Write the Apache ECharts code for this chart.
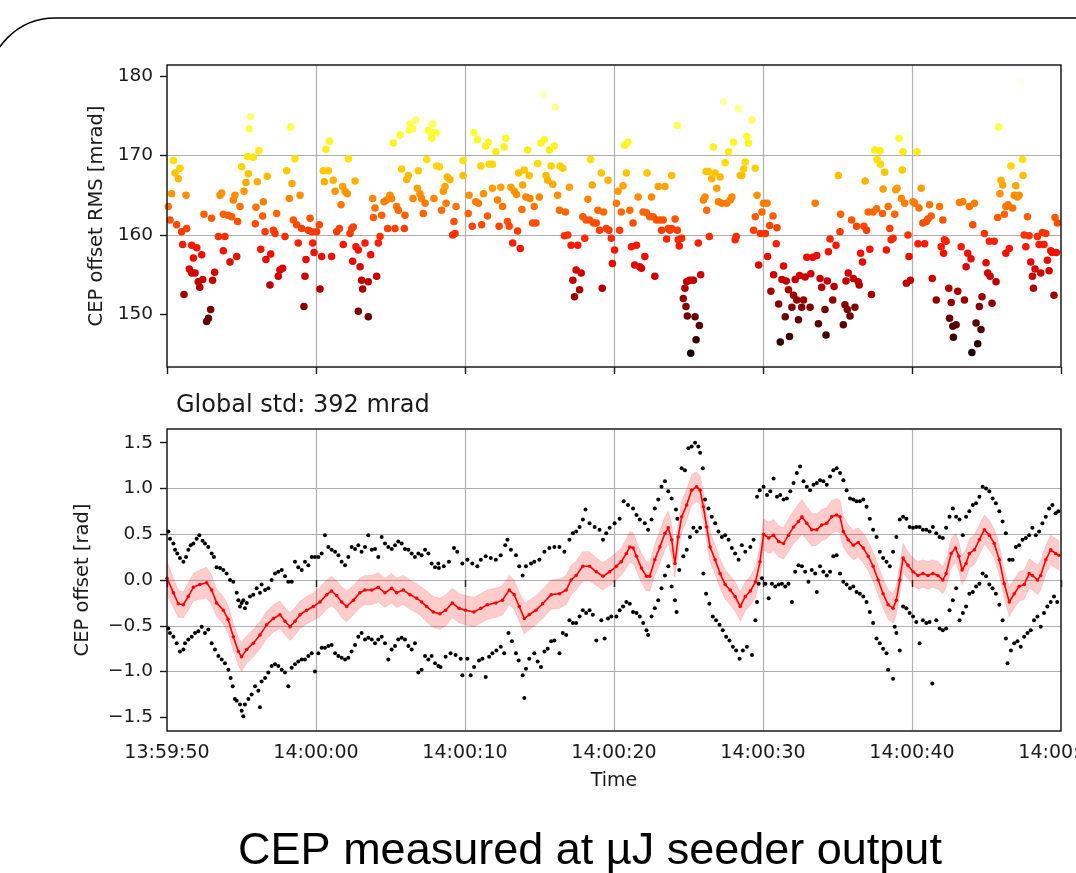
<!DOCTYPE html>
<html>
<head>
<meta charset="utf-8">
<style>
html, body { margin: 0; padding: 0; background: #fff; }
#chart { width: 1076px; height: 873px; }
</style>
<script src="https://cdn.jsdelivr.net/npm/echarts@6/dist/echarts.min.js"></script>
</head>
<body>
<div id="chart"></div>
<script>
// time axis: seconds after 13:59:50
let xTickLabels = ['13:59:50', '14:00:00', '14:00:10', '14:00:20', '14:00:30', '14:00:40', '14:00:50'];
let rmsTicks = [150, 160, 170, 180];
let cepTicks = [-1.5, -1.0, -0.5, 0.0, 0.5, 1.0, 1.5];

// top panel: CEP offset RMS [mrad], [t, value]
let rmsPoints = [
[0.43,169.4],[0.54,167.8],[0.76,167.1],[0.87,168.4],[0.31,165.2],[0.09,163.6],[0.2,161.9],[0.65,161.3],[0.98,160.4],[1.32,160.8],[1.28,165.0],[1.05,158.8],[1.66,158.7],[2.0,158.4],[1.77,157.1],[2.33,157.5],[1.5,155.7],[1.66,155.2],[1.88,155.2],[2.1,154.1],[2.2,153.4],[2.4,154.4],[1.14,152.5],[2.66,149.1],[2.78,149.5],[2.93,150.6],[3.06,154.3],[3.2,155.3],[2.48,162.6],[2.99,162.1],[3.45,159.8],[3.56,165.0],[3.67,165.3],[3.78,162.6],[3.89,159.8],[3.78,158.0],[4.1,162.5],[4.23,156.6],[4.34,162.3],[4.45,164.4],[4.56,165.0],[4.68,157.3],[4.74,161.7],[4.9,163.6],[5.01,168.6],[5.17,165.5],[5.3,166.6],[5.41,169.9],[5.52,173.4],[5.61,174.9],[5.79,169.8],[5.46,167.7],[5.93,161.4],[5.97,163.5],[6.06,166.7],[6.17,170.6],[6.29,158.2],[6.42,162.4],[6.47,164.2],[6.58,160.4],[6.64,156.9],[6.73,167.4],[6.96,157.6],[7.14,160.6],[7.25,160.2],[7.36,162.7],[7.47,154.8],[7.58,155.6],[7.76,155.8],[6.91,153.7],[7.92,159.8],[8.03,168.1],[8.21,164.6],[8.3,173.6],[8.39,166.5],[8.48,161.9],[8.59,169.6],[8.7,161.3],[8.81,159.0],[8.93,165.0],[9.04,160.8],[9.19,151.0],[9.26,154.8],[9.33,156.9],[9.49,160.6],[9.6,162.1],[9.71,160.4],[9.78,159.0],[9.87,157.8],[10.04,160.4],[10.22,161.3],[10.27,153.2],[10.38,157.3],[10.49,168.1],[10.56,166.7],[10.67,170.8],[10.83,168.1],[10.9,171.8],[11.05,157.3],[11.16,166.9],[11.28,165.5],[11.39,160.4],[11.57,160.8],[11.68,163.8],[11.79,166.1],[11.83,158.8],[11.95,165.5],[12.1,165.2],[12.17,169.6],[12.28,160.2],[12.4,160.8],[12.46,156.7],[12.5,161.0],[12.62,166.8],[12.68,158.5],[12.84,158.1],[12.96,156.0],[13.06,154.3],[12.84,150.4],[13.13,153.2],[13.29,159.0],[13.51,154.1],[13.51,149.7],[13.67,157.5],[13.8,164.6],[13.96,163.4],[13.85,162.2],[14.07,154.8],[14.18,159.0],[14.3,159.8],[14.41,162.5],[14.56,164.2],[14.74,164.4],[14.81,160.8],[14.96,165.0],[15.07,164.6],[15.19,171.6],[15.3,160.8],[15.41,163.6],[15.53,163.1],[15.64,172.6],[15.75,168.3],[15.97,162.5],[15.93,160.8],[16.09,167.0],[16.2,167.5],[16.26,173.2],[16.31,174.0],[16.49,173.4],[16.71,174.5],[16.51,164.6],[16.8,165.9],[16.87,168.1],[16.98,165.2],[17.09,164.6],[17.2,162.7],[17.32,164.0],[17.43,169.5],[17.54,173.2],[17.65,173.0],[17.77,172.2],[17.83,174.0],[17.92,164.6],[18.05,172.9],[18.1,168.7],[18.28,168.6],[18.43,163.1],[18.55,165.5],[18.66,166.1],[18.73,164.0],[18.81,167.3],[18.99,167.0],[19.17,160.0],[19.26,161.7],[19.4,163.6],[19.33,160.2],
[19.87,169.4],[19.87,167.5],[20.27,165.0],[20.22,162.7],[20.49,161.1],[20.61,172.9],[20.72,164.2],[20.83,172.0],[20.9,164.0],[21.06,168.7],[21.12,161.3],[21.24,165.2],[21.39,171.2],[21.51,162.4],[21.57,171.7],[21.62,168.9],[21.84,168.9],[21.84,165.9],[22.07,170.5],[22.18,164.4],[22.29,161.1],[22.4,166.0],[22.52,163.6],[22.63,171.1],[22.74,172.2],[22.85,161.7],[22.97,161.1],[23.08,166.0],[23.2,159.0],[23.31,165.5],[23.46,165.1],[23.53,160.5],[23.6,167.8],[23.71,158.3],[23.82,163.2],[23.87,166.3],[23.98,168.2],[24.09,164.8],[24.2,170.7],[24.31,167.5],[24.36,164.6],[24.54,161.5],[24.65,163.6],[24.76,161.5],[24.88,169.0],[24.99,164.8],[25.1,171.6],[25.26,177.6],[25.33,172.0],[25.44,167.5],[25.55,166.9],[25.66,170.7],[25.78,168.7],[25.89,166.4],[25.99,171.2],[26.07,176.1],[26.22,165.0],[26.34,163.1],[26.38,168.7],[26.56,168.4],[26.67,159.9],[26.74,162.9],[26.9,160.0],[27.01,166.0],[27.12,158.7],[27.24,154.3],[27.35,152.2],[27.46,155.6],[27.57,158.7],[27.69,153.1],[27.8,155.2],[27.91,162.3],[28.04,159.6],[28.13,161.9],[28.25,164.5],[28.36,161.9],[28.43,169.5],[28.54,166.3],[28.63,161.5],[28.81,161.5],[28.92,163.1],[29.03,160.6],[29.15,167.8],[29.21,153.3],[29.3,162.9],[29.48,160.8],[29.6,166.9],[29.66,160.6],[29.82,159.6],[29.89,156.4],[30.04,158.1],[30.16,164.0],[30.27,165.5],[30.38,160.6],[30.49,162.9],[30.61,166.2],[30.72,171.3],[30.83,167.8],[30.94,171.7],[31.06,163.1],[31.17,158.5],[31.28,161.5],[31.39,156.2],[31.51,158.7],[31.62,164.8],[31.73,156.0],[31.84,155.8],[31.96,162.9],[32.07,157.3],[32.18,162.8],[32.22,167.8],[32.4,162.3],[32.52,164.8],[32.63,162.3],[32.74,154.8],[32.85,161.9],[32.97,166.1],[33.08,161.9],[33.19,160.6],[33.3,161.9],[33.42,166.1],[33.53,159.5],[33.64,160.8],[33.75,160.6],[33.87,160.8],[33.87,167.5],[34.1,162.0],[34.25,173.8],[34.25,160.6],[34.31,159.4],[34.38,158.6],[34.54,159.6],[34.65,152.0],[34.76,153.3],[34.83,151.0],[34.88,154.1],[34.92,149.8],[35.06,154.3],[35.15,145.1],[35.21,154.3],[35.33,154.3],[35.44,149.7],[35.51,146.8],[35.66,159.0],[35.73,148.6],[35.82,155.0],[36.0,164.4],[36.11,164.8],[36.18,168.0],[36.22,163.1],[36.34,168.0],[36.4,159.8],[36.56,167.1],[36.67,171.1],[36.79,167.8],[36.9,165.9],[37.01,164.2],[37.12,167.3],[37.24,164.0],[37.35,176.8],[37.46,169.1],[37.57,164.0],[37.69,170.5],[37.8,164.4],[37.91,164.8],[38.02,171.7],[38.13,159.4],[38.2,159.8],[38.36,175.9],[38.47,167.5],[38.58,167.5],[38.7,168.3],[38.81,169.2],[38.92,172.4],[39.03,171.6],[39.26,174.5],[39.37,160.6],[39.48,168.4],[39.48,162.3],[39.6,165.0],[39.71,156.2],
[39.93,162.9],[40.04,164.0],[40.27,164.0],[39.82,160.2],[40.16,160.2],[40.45,161.2],[40.67,162.4],[40.94,160.9],[40.89,158.9],[40.31,157.3],[40.71,155.0],[40.53,152.9],[41.05,151.3],[41.27,154.4],[41.38,156.1],[41.56,154.2],[41.71,153.1],[41.49,149.7],[41.16,146.5],[41.78,147.2],[41.94,150.9],[42.05,152.4],[42.16,154.4],[42.27,151.8],[42.38,149.3],[42.45,154.9],[42.6,150.9],[42.72,151.8],[42.83,154.7],[42.94,157.2],[43.16,150.9],[43.21,155.1],[43.34,157.2],[43.5,164.0],[43.61,157.4],[43.72,148.8],[43.83,154.5],[43.94,153.4],[44.16,150.6],[44.23,147.4],[44.32,154.2],[44.39,157.9],[44.5,159.5],[44.68,151.8],[44.77,153.5],[44.9,158.7],[45.06,167.5],[45.17,160.4],[45.21,162.6],[45.39,148.7],[45.5,151.2],[45.57,154.2],[45.66,150.6],[45.72,155.2],[45.84,149.8],[45.95,161.9],[46.06,154.5],[46.17,150.9],[46.28,161.1],[46.39,154.1],[46.46,153.7],[46.55,157.7],[46.68,156.6],[46.77,161.1],[46.86,166.8],[46.95,160.6],[47.06,162.9],[47.17,158.2],[47.28,152.5],[47.39,162.9],[47.5,170.7],[47.62,163.3],[47.66,169.5],[47.86,170.6],[47.88,168.9],[48.02,162.7],[48.06,165.8],[48.17,167.9],[48.28,158.1],[48.4,163.6],[48.51,160.8],[48.6,159.4],[48.73,159.6],[48.84,162.6],[48.91,165.7],[49.0,165.9],[49.13,172.2],[49.29,164.6],[49.35,168.2],[49.4,170.5],[49.51,164.0],[49.62,153.9],[49.73,160.0],[49.8,157.3],[49.89,154.3],[50.07,164.2],[50.18,164.0],[50.33,170.5],[50.4,158.9],[50.47,163.4],[50.62,165.9],[50.73,161.5],[50.85,158.9],[50.96,161.7],[51.07,162.0],[51.18,163.8],[51.29,162.4],[51.36,154.5],[51.63,151.8],[51.85,163.6],[51.96,158.5],[52.07,161.9],[52.12,157.7],[52.18,159.4],[52.29,159.2],[52.47,153.3],[52.52,149.5],[52.63,151.5],[52.74,148.5],[52.78,147.1],[52.96,148.7],[53.07,152.9],[53.19,164.1],[53.3,158.5],[53.41,164.2],[53.52,151.8],[53.63,156.0],[53.74,157.7],[53.85,163.6],[53.96,157.0],[54.08,161.3],[54.19,164.0],[54.02,145.2],[54.3,148.9],[54.41,146.3],[54.52,151.0],[54.63,148.1],[54.7,152.2],[54.86,160.2],[54.97,156.5],[55.08,155.2],[55.19,159.2],[55.24,154.8],[55.37,151.4],[55.52,159.2],[55.64,154.1],[55.75,162.2],[55.81,173.6],[55.9,165.2],[55.97,166.9],[56.09,166.3],[56.2,162.6],[56.3,163.6],[56.3,157.7],[56.44,163.8],[56.53,158.3],[56.64,168.7],[56.75,163.4],[56.86,165.0],[56.97,166.2],[57.08,164.8],[57.19,165.0],[57.3,179.3],[57.42,169.5],[57.46,167.5],[57.53,160.0],[57.64,158.5],[57.75,162.3],[57.86,159.9],[57.97,156.6],[58.08,154.8],[58.15,153.3],[58.26,155.7],[58.42,159.8],[58.53,158.8],[58.64,155.2],[58.75,160.3],[58.86,158.8],[58.98,160.2],[59.09,156.8],[59.2,155.5],[59.31,158.0],[59.42,157.8],[59.53,152.4],[59.6,162.2],[59.69,157.8],[59.76,161.5]
];

// bottom panel: running mean [t, mean, half width of shaded band] in rad
let meanTrace = [
[0,0.02,0.19],[0.43,-0.14,0.16],[0.76,-0.26,0.15],[1.1,-0.27,0.14],[1.43,-0.18,0.15],[1.77,-0.08,0.15],[2.2,-0.05,0.16],[2.66,-0.03,0.17],[3.0,-0.11,0.16],[3.33,-0.25,0.15],[3.78,-0.33,0.15],[4.1,-0.43,0.15],[4.45,-0.62,0.15],[4.79,-0.78,0.15],[5.0,-0.84,0.16],[5.35,-0.76,0.15],[5.79,-0.69,0.15],[6.24,-0.6,0.15],[6.69,-0.49,0.15],[7.14,-0.42,0.15],[7.58,-0.38,0.15],[7.92,-0.45,0.15],[8.26,-0.51,0.15],[8.59,-0.45,0.15],[8.93,-0.38,0.15],[9.37,-0.33,0.15],[9.82,-0.29,0.15],[10.27,-0.24,0.16],[10.72,-0.16,0.16],[11.05,-0.12,0.16],[11.39,-0.17,0.16],[11.72,-0.24,0.17],[12.06,-0.29,0.17],[12.51,-0.22,0.16],[12.95,-0.14,0.16],[13.29,-0.11,0.16],[13.74,-0.11,0.16],[14.18,-0.08,0.16],[14.63,-0.14,0.16],[15.08,-0.09,0.16],[15.41,-0.14,0.16],[15.86,-0.11,0.16],[16.31,-0.16,0.16],[16.76,-0.2,0.16],[17.09,-0.24,0.16],[17.43,-0.29,0.17],[17.87,-0.35,0.17],[18.32,-0.37,0.17],[18.7,-0.33,0.17],[19.15,-0.25,0.16],[19.6,-0.31,0.16],[20.04,-0.33,0.16],[20.6,-0.35,0.16],[21.06,-0.31,0.16],[21.5,-0.27,0.16],[22.07,-0.25,0.16],[22.52,-0.22,0.16],[22.97,-0.11,0.16],[23.3,-0.16,0.16],[23.64,-0.29,0.16],[23.98,-0.42,0.17],[24.31,-0.38,0.16],[24.76,-0.33,0.16],[25.21,-0.26,0.16],[25.78,-0.16,0.16],[26.34,-0.15,0.16],[26.79,-0.11,0.16],[27.12,0.0,0.16],[27.46,0.05,0.16],[27.91,0.15,0.16],[28.36,0.15,0.16],[28.81,0.09,0.15],[29.26,0.04,0.15],[29.71,0.09,0.15],[30.16,0.15,0.15],[30.49,0.2,0.15],[30.83,0.29,0.16],[31.06,0.36,0.17],[31.28,0.35,0.17],[31.51,0.26,0.16],[31.84,0.13,0.16],[32.18,0.04,0.16],[32.4,0.04,0.16],[32.74,0.22,0.17],[33.08,0.36,0.18],[33.42,0.51,0.18],[33.64,0.57,0.18],[33.87,0.44,0.18],[34.09,0.18,0.15],[34.31,0.47,0.16],[34.54,0.69,0.17],[34.88,0.82,0.17],[35.21,0.98,0.17],[35.55,1.02,0.16],[35.78,0.98,0.16],[36.0,0.8,0.16],[36.22,0.58,0.16],[36.45,0.36,0.16],[36.79,0.22,0.16],[37.12,0.07,0.16],[37.46,-0.05,0.16],[37.8,-0.11,0.16],[38.13,-0.18,0.16],[38.47,-0.29,0.16],[38.81,-0.18,0.16],[39.15,-0.12,0.16],[39.5,-0.02,0.17],[39.8,0.2,0.17],[40.04,0.5,0.17],
[40.38,0.46,0.17],[40.71,0.49,0.17],[41.05,0.42,0.17],[41.38,0.4,0.17],[41.71,0.49,0.18],[42.05,0.58,0.18],[42.38,0.64,0.19],[42.61,0.69,0.19],[42.94,0.62,0.18],[43.27,0.55,0.18],[43.61,0.55,0.17],[43.94,0.6,0.17],[44.28,0.62,0.17],[44.61,0.69,0.18],[44.94,0.71,0.18],[45.17,0.69,0.18],[45.39,0.53,0.17],[45.72,0.44,0.16],[46.06,0.38,0.16],[46.39,0.41,0.16],[46.73,0.35,0.16],[47.06,0.26,0.16],[47.39,0.15,0.16],[47.73,0.0,0.16],[48.06,-0.15,0.16],[48.4,-0.27,0.16],[48.73,-0.31,0.16],[48.95,-0.22,0.16],[49.18,0.0,0.16],[49.4,0.24,0.16],[49.73,0.16,0.15],[50.07,0.09,0.15],[50.4,0.05,0.15],[50.73,0.07,0.15],[51.07,0.05,0.15],[51.4,0.07,0.15],[51.74,0.05,0.15],[52.07,0.0,0.15],[52.29,0.07,0.15],[52.63,0.29,0.16],[52.92,0.35,0.16],[53.14,0.26,0.16],[53.36,0.11,0.16],[53.63,0.18,0.16],[53.85,0.29,0.16],[54.19,0.33,0.16],[54.52,0.44,0.16],[54.86,0.55,0.16],[55.19,0.49,0.16],[55.52,0.4,0.16],[55.86,0.22,0.16],[56.19,-0.04,0.16],[56.53,-0.24,0.16],[56.86,-0.15,0.16],[57.19,-0.07,0.16],[57.53,-0.05,0.16],[57.86,0.07,0.16],[58.08,0.05,0.16],[58.42,0.0,0.16],[58.64,0.05,0.16],[58.98,0.22,0.16],[59.31,0.33,0.16],[59.64,0.29,0.16],[59.87,0.27,0.16]
];

// bottom panel: single shots, upper branch [t, rad]
let upperShots = [
[0.09,0.53],[0.2,0.45],[0.43,0.4],[0.54,0.33],[0.69,0.29],[0.87,0.24],[1.1,0.2],[1.28,0.25],[1.43,0.33],[1.59,0.38],[1.77,0.4],[1.99,0.45],[2.17,0.49],[2.39,0.43],[2.55,0.4],[2.77,0.36],[3.0,0.29],[3.15,0.25],[3.33,0.14],[3.56,0.13],[3.78,0.11],[4.0,0.07],[4.23,0.0],[4.45,-0.02],[4.68,-0.14],[4.79,-0.22],[4.9,-0.29],[5.01,-0.25],[5.12,-0.22],[5.23,-0.31],[5.35,-0.25],[5.57,-0.18],[5.79,-0.16],[6.02,-0.09],[6.24,-0.14],[6.35,-0.05],[6.58,-0.11],[6.8,-0.09],[7.02,0.0],[7.25,0.07],[7.47,0.09],[7.7,0.11],[7.92,0.04],[8.14,-0.02],[8.37,-0.02],[8.59,0.2],[8.81,0.14],[9.04,0.11],[9.26,0.2],[9.49,0.16],[9.71,0.25],[9.93,0.25],[10.16,0.25],[10.38,0.29],[10.6,0.49],[10.83,0.36],[11.05,0.33],[11.28,0.31],[11.5,0.27],[11.72,0.2],[11.95,0.16],[12.17,0.25],[12.39,0.36],[12.62,0.34],[12.84,0.38],[13.06,0.31],[13.29,0.36],[13.51,0.49],[13.74,0.33],[13.96,0.34],[14.18,0.25],[14.41,0.47],[14.63,0.4],[14.85,0.36],[15.08,0.34],[15.3,0.38],[15.52,0.42],[15.75,0.4],[15.97,0.34],[16.2,0.33],[16.42,0.29],[16.64,0.25],[16.87,0.29],[17.09,0.27],[17.32,0.33],[17.54,0.29],[17.76,0.18],[17.99,0.14],[18.21,0.18],
[18.25,0.13],[18.58,0.15],[18.92,0.2],[19.26,0.35],[19.48,0.31],[19.82,0.18],[20.16,0.22],[20.49,0.18],[20.83,0.15],[21.06,0.22],[21.39,0.26],[21.73,0.24],[22.07,0.22],[22.4,0.27],[22.7,0.38],[22.85,0.44],[23.08,0.33],[23.42,0.27],[23.64,0.15],[23.87,0.05],[24.09,0.15],[24.43,0.18],[24.65,0.2],[24.99,0.22],[25.33,0.31],[25.66,0.35],[26.0,0.36],[26.34,0.36],[26.67,0.31],[27.01,0.44],[27.24,0.51],[27.46,0.53],[27.69,0.58],[27.91,0.66],[28.09,0.77],[28.36,0.62],[28.7,0.58],[29.03,0.55],[29.26,0.44],[29.48,0.51],[29.71,0.57],[30.04,0.62],[30.38,0.67],[30.65,0.86],[30.94,0.82],[31.28,0.78],[31.51,0.71],[31.73,0.66],[32.07,0.62],[32.29,0.55],[32.52,0.66],[32.74,0.78],[32.97,0.88],[33.19,1.02],[33.42,1.08],[33.64,0.97],[33.87,0.89],[34.16,0.77],[34.25,0.67],[34.54,1.22],[34.76,1.2],[34.99,1.44],[35.21,1.46],[35.44,1.5],[35.66,1.46],[35.78,1.39],[35.96,1.22],[36.11,0.88],[36.34,0.78],[36.56,0.69],[36.79,0.62],[37.01,0.53],[37.24,0.47],[37.46,0.49],[37.69,0.44],[37.91,0.35],[38.13,0.29],[38.36,0.22],[38.58,0.38],[38.81,0.31],[39.15,0.36],[39.37,0.44],[39.6,0.91],[39.78,0.98],
[40.04,1.02],[40.27,0.93],[40.49,0.97],[40.71,1.11],[40.94,0.91],[41.16,0.93],[41.38,0.88],[41.6,0.89],[41.83,0.97],[42.05,1.06],[42.27,1.17],[42.49,1.24],[42.72,1.08],[42.94,1.02],[43.16,0.98],[43.39,1.04],[43.61,1.06],[43.83,1.09],[44.05,1.08],[44.28,1.04],[44.5,1.13],[44.72,1.2],[44.94,1.22],[45.17,1.17],[45.39,1.09],[45.61,0.98],[45.84,0.89],[46.06,0.88],[46.28,0.86],[46.5,0.86],[46.73,0.88],[46.95,0.8],[47.17,0.67],[47.39,0.55],[47.62,0.47],[47.84,0.31],[48.06,0.24],[48.29,0.2],[48.51,0.15],[48.73,0.31],[48.95,0.47],[49.18,0.66],[49.4,0.69],[49.62,0.67],[49.84,0.58],[50.07,0.57],[50.29,0.58],[50.51,0.58],[50.73,0.55],[50.96,0.55],[51.18,0.53],[51.4,0.58],[51.63,0.51],[51.85,0.47],[52.07,0.46],[52.29,0.57],[52.52,0.69],[52.74,0.78],[52.96,0.69],[53.19,0.66],[53.41,0.49],[53.63,0.69],[53.85,0.75],[54.08,0.82],[54.3,0.84],[54.52,0.91],[54.74,1.02],[54.97,1.0],[55.19,0.97],[55.41,0.89],[55.63,0.84],[55.86,0.75],[56.08,0.64],[56.3,0.51],[56.53,0.22],[56.75,0.22],[56.97,0.36],[57.19,0.38],[57.42,0.44],[57.64,0.46],[57.86,0.49],[58.08,0.57],[58.31,0.49],[58.53,0.53],[58.75,0.62],[58.98,0.69],[59.2,0.78],[59.42,0.82],[59.64,0.73],[59.82,0.75]
];

// bottom panel: single shots, lower branch [t, rad]
let lowerShots = [
[0.09,-0.53],[0.2,-0.58],[0.43,-0.62],[0.65,-0.69],[0.87,-0.78],[1.1,-0.76],[1.21,-0.69],[1.43,-0.65],[1.66,-0.62],[1.88,-0.58],[2.1,-0.56],[2.33,-0.51],[2.55,-0.58],[2.77,-0.54],[3.0,-0.69],[3.22,-0.76],[3.45,-0.83],[3.67,-0.87],[3.89,-0.91],[4.12,-0.98],[4.27,-1.07],[4.41,-1.16],[4.56,-1.3],[4.68,-1.32],[4.9,-1.36],[5.01,-1.43],[5.12,-1.49],[5.23,-1.36],[5.46,-1.3],[5.68,-1.25],[5.91,-1.16],[6.24,-1.39],[6.13,-1.21],[6.35,-1.11],[6.58,-1.07],[6.8,-1.01],[7.02,-0.94],[7.25,-0.92],[7.47,-0.94],[7.7,-0.98],[7.92,-1.01],[8.14,-1.16],[8.37,-0.96],[8.59,-0.92],[8.81,-0.89],[9.04,-0.87],[9.26,-0.87],[9.49,-0.83],[9.71,-0.8],[9.93,-1.0],[10.16,-0.8],[10.38,-0.74],[10.6,-0.74],[10.83,-0.72],[11.05,-0.71],[11.28,-0.8],[11.5,-0.83],[11.72,-0.85],[11.95,-0.87],[12.17,-0.85],[12.39,-0.78],[12.62,-0.71],[12.84,-0.62],[13.06,-0.58],[13.29,-0.65],[13.51,-0.63],[13.74,-0.65],[13.96,-0.69],[14.18,-0.65],[14.41,-0.62],[14.63,-0.69],[14.85,-0.87],[15.08,-0.76],[15.3,-0.72],[15.52,-0.65],[15.75,-0.63],[15.97,-0.65],[16.2,-0.72],[16.42,-0.76],[16.64,-0.69],[16.87,-1.01],[17.09,-0.98],[17.32,-0.83],[17.54,-0.87],[17.76,-0.83],[17.99,-0.91],[18.21,-0.94],
[18.36,-0.95],[18.7,-0.84],[19.03,-0.8],[19.37,-0.82],[19.71,-0.86],[19.82,-1.04],[20.16,-0.86],[20.38,-1.04],[20.61,-0.95],[20.94,-0.88],[21.17,-0.86],[21.39,-1.06],[21.62,-0.84],[21.84,-0.8],[22.11,-0.77],[22.4,-0.73],[22.63,-0.8],[22.92,-0.58],[23.15,-0.67],[23.42,-0.8],[23.6,-0.88],[23.87,-1.04],[23.98,-1.29],[24.09,-0.97],[24.31,-0.86],[24.65,-0.8],[24.88,-0.89],[25.1,-0.95],[25.33,-0.78],[25.55,-0.75],[25.78,-0.67],[26.0,-0.66],[26.34,-0.8],[26.56,-0.58],[26.79,-0.6],[27.01,-0.44],[27.24,-0.47],[27.46,-0.47],[27.69,-0.4],[27.91,-0.33],[28.13,-0.36],[28.36,-0.33],[28.58,-0.38],[28.81,-0.66],[29.15,-0.44],[29.37,-0.64],[29.6,-0.42],[29.82,-0.4],[30.16,-0.4],[30.38,-0.33],[30.61,-0.29],[30.83,-0.24],[31.06,-0.26],[31.28,-0.35],[31.51,-0.36],[31.73,-0.4],[31.96,-0.47],[32.18,-0.55],[32.29,-0.6],[32.52,-0.4],[32.74,-0.31],[32.97,-0.22],[33.19,-0.09],[33.42,0.05],[33.64,0.15],[33.87,-0.07],[34.09,-0.22],[34.2,-0.35],[34.38,0.11],[34.65,0.26],[34.88,0.33],[35.1,0.47],[35.33,0.57],[35.55,0.53],[35.78,0.57],[36.0,0.07],[36.18,-0.15],[36.4,-0.26],[36.63,-0.4],[36.85,-0.44],[37.08,-0.49],[37.3,-0.55],[37.53,-0.62],[37.75,-0.66],[37.98,-0.73],[38.2,-0.77],[38.43,-0.86],[38.65,-0.77],[38.92,-0.73],[39.26,-0.82],[39.49,-0.44],[39.6,-0.24],[39.71,-0.04],
[39.93,0.02],[40.16,-0.04],[40.38,-0.2],[40.6,-0.04],[40.82,-0.07],[41.05,-0.05],[41.27,-0.04],[41.49,-0.07],[41.71,-0.04],[41.94,-0.24],[42.16,0.09],[42.38,0.16],[42.61,0.15],[42.83,0.09],[43.05,-0.02],[43.27,0.11],[43.5,0.07],[43.61,-0.13],[43.83,0.15],[44.05,0.09],[44.28,0.05],[44.5,0.09],[44.72,0.26],[44.94,0.27],[45.17,0.07],[45.39,-0.02],[45.61,-0.05],[45.84,-0.09],[46.06,-0.07],[46.28,-0.13],[46.5,-0.15],[46.73,-0.18],[46.95,-0.24],[47.17,-0.35],[47.39,-0.47],[47.62,-0.64],[47.84,-0.69],[48.06,-0.75],[48.29,-0.8],[48.4,-0.98],[48.73,-1.08],[48.84,-0.51],[48.95,-0.58],[49.18,-0.77],[49.4,-0.29],[49.62,-0.31],[49.84,-0.36],[50.07,-0.4],[50.29,-0.46],[50.51,-0.69],[50.73,-0.44],[50.96,-0.47],[51.18,-0.46],[51.36,-1.13],[51.63,-0.44],[51.85,-0.53],[52.07,-0.55],[52.29,-0.53],[52.52,-0.33],[52.74,-0.22],[52.96,-0.09],[53.19,-0.44],[53.41,-0.36],[53.63,-0.29],[53.85,-0.15],[54.08,-0.13],[54.3,-0.07],[54.52,-0.04],[54.74,0.07],[54.97,0.04],[55.19,-0.05],[55.41,-0.09],[55.63,-0.15],[55.86,-0.27],[56.08,-0.44],[56.3,-0.64],[56.41,-0.91],[56.64,-0.77],[56.86,-0.69],[57.08,-0.67],[57.3,-0.73],[57.53,-0.62],[57.75,-0.58],[57.97,-0.55],[58.19,-0.44],[58.42,-0.4],[58.64,-0.51],[58.86,-0.36],[59.08,-0.29],[59.31,-0.24],[59.53,-0.18],[59.75,-0.24]
];

// matplotlib "hot" colormap, sampled at 0, 0.1 ... 1
let hotColors = ['#0b0000', '#4d0000', '#910000', '#d30000', '#ff1700', '#ff5a00', '#ff9d00', '#ffe000', '#ffff36', '#ffff9b', '#ffffff'];

let FONT = 'DejaVu Sans';
let INK = '#1a1a1a';

let meanLine = meanTrace.map(p => [p[0], p[1]]);

function timeLabel(v) {
	let i = Math.round(v / 10);
	return xTickLabels[i] || '';
}
function cepLabel(v) {
	return v.toFixed(1).replace('-', '\u2212');
}

// shaded band (mean +/- half width) drawn as one polygon through the axis scales
function renderBand(params, api) {
	let upper = [];
	let lower = [];
	meanTrace.forEach(p => {
		upper.push(api.coord([p[0], p[1] + p[2]]));
		lower.push(api.coord([p[0], p[1] - p[2]]));
	});
	let pts = upper.concat(lower.reverse());
	return {
		type: 'polygon',
		shape: {points: pts},
		style: {fill: 'rgba(255,0,0,0.2)', stroke: 'rgba(255,0,0,0.12)', lineWidth: 1}
	};
}

let GRIDTOP = {left: 167, top: 65, width: 894, height: 302, outerBoundsMode: 'none', containLabel: false};
let GRIDBOT = {left: 167, top: 429, width: 894, height: 302, outerBoundsMode: 'none', containLabel: false};

let splitStyle = {show: true, showMinLine: false, showMaxLine: false, lineStyle: {color: '#b0b0b0', width: 1.2}};
let tickStyle = {show: true, length: 7, lineStyle: {color: INK, width: 1.4}};

let myChart = echarts.init(document.getElementById('chart'));

option = {
	animation: false,
	backgroundColor: '#fff',
	textStyle: {fontFamily: FONT},
	title: {
		text: 'Global std: 392 mrad',
		left: 176,
		top: 394,
		padding: 0,
		textStyle: {fontFamily: FONT, fontSize: 24, fontWeight: 'normal', color: INK}
	},
	grid: [GRIDTOP, GRIDBOT],
	visualMap: {
		type: 'continuous',
		show: false,
		seriesIndex: 0,
		dimension: 1,
		min: 144.5,
		max: 180,
		inRange: {color: hotColors}
	},
	xAxis: [
		{
			gridIndex: 0, type: 'value', min: 0, max: 60, interval: 10,
			axisLine: {show: false}, axisTick: tickStyle,
			axisLabel: {show: false},
			splitLine: splitStyle
		},
		{
			gridIndex: 1, type: 'value', min: 0, max: 60, interval: 10,
			axisLine: {show: false}, axisTick: tickStyle,
			axisLabel: {formatter: timeLabel, fontFamily: FONT, fontSize: 19, color: INK, margin: 13, hideOverlap: false},
			splitLine: splitStyle,
			name: 'Time', nameLocation: 'middle', nameGap: 41,
			nameTextStyle: {fontFamily: FONT, fontSize: 19, color: INK}
		}
	],
	yAxis: [
		{
			gridIndex: 0, type: 'value', min: 143.36, max: 181.42,
			axisLine: {show: false},
			axisTick: Object.assign({customValues: rmsTicks}, tickStyle),
			axisLabel: {customValues: rmsTicks, fontFamily: FONT, fontSize: 18.5, color: INK, margin: 14},
			splitLine: splitStyle,
			name: 'CEP offset RMS [mrad]', nameLocation: 'middle', nameGap: 60,
			nameTextStyle: {fontFamily: FONT, fontSize: 19.5, color: INK}
		},
		{
			gridIndex: 1, type: 'value', min: -1.65, max: 1.65,
			axisLine: {show: false},
			axisTick: Object.assign({customValues: cepTicks}, tickStyle),
			axisLabel: {customValues: cepTicks, formatter: cepLabel, fontFamily: FONT, fontSize: 18.5, color: INK, margin: 14},
			splitLine: splitStyle,
			name: 'CEP offset [rad]', nameLocation: 'middle', nameGap: 74,
			nameTextStyle: {fontFamily: FONT, fontSize: 19.5, color: INK}
		}
	],
	graphic: [
		{
			type: 'rect', z: 100, silent: true,
			shape: {x: GRIDTOP.left, y: GRIDTOP.top, width: GRIDTOP.width, height: GRIDTOP.height},
			style: {fill: 'none', stroke: INK, lineWidth: 1.5}
		},
		{
			type: 'rect', z: 100, silent: true,
			shape: {x: GRIDBOT.left, y: GRIDBOT.top, width: GRIDBOT.width, height: GRIDBOT.height},
			style: {fill: 'none', stroke: INK, lineWidth: 1.5}
		},
		{
			// slide frame with rounded corner
			type: 'rect', z: 100, silent: true,
			shape: {x: -12, y: 18, width: 1300, height: 1100, r: 67},
			style: {fill: 'none', stroke: '#000', lineWidth: 1.5}
		},
		{
			type: 'text', z: 100, silent: true,
			style: {
				text: 'CEP measured at \u00b5J seeder output',
				x: 590, y: 852, textAlign: 'center', textVerticalAlign: 'middle',
				font: '45px "Liberation Sans"', fill: '#000'
			}
		}
	],
	series: [
		{
			name: 'rms',
			type: 'scatter',
			xAxisIndex: 0, yAxisIndex: 0,
			symbolSize: 7.5,
			itemStyle: {opacity: 1},
			data: rmsPoints
		},
		{
			name: 'band',
			type: 'custom',
			xAxisIndex: 1, yAxisIndex: 1,
			renderItem: renderBand,
			clip: true,
			silent: true,
			data: [0]
		},
		{
			name: 'upper',
			type: 'scatter',
			xAxisIndex: 1, yAxisIndex: 1,
			symbolSize: 4,
			itemStyle: {color: '#000', opacity: 1},
			data: upperShots
		},
		{
			name: 'lower',
			type: 'scatter',
			xAxisIndex: 1, yAxisIndex: 1,
			symbolSize: 4,
			itemStyle: {color: '#000', opacity: 1},
			data: lowerShots
		},
		{
			name: 'mean',
			type: 'line',
			xAxisIndex: 1, yAxisIndex: 1,
			symbol: 'circle', symbolSize: 3.5, showSymbol: true,
			lineStyle: {color: '#ff0000', width: 1.6},
			itemStyle: {color: '#ff0000'},
			data: meanLine
		}
	]
};

myChart.setOption(option);
</script>
</body>
</html>
